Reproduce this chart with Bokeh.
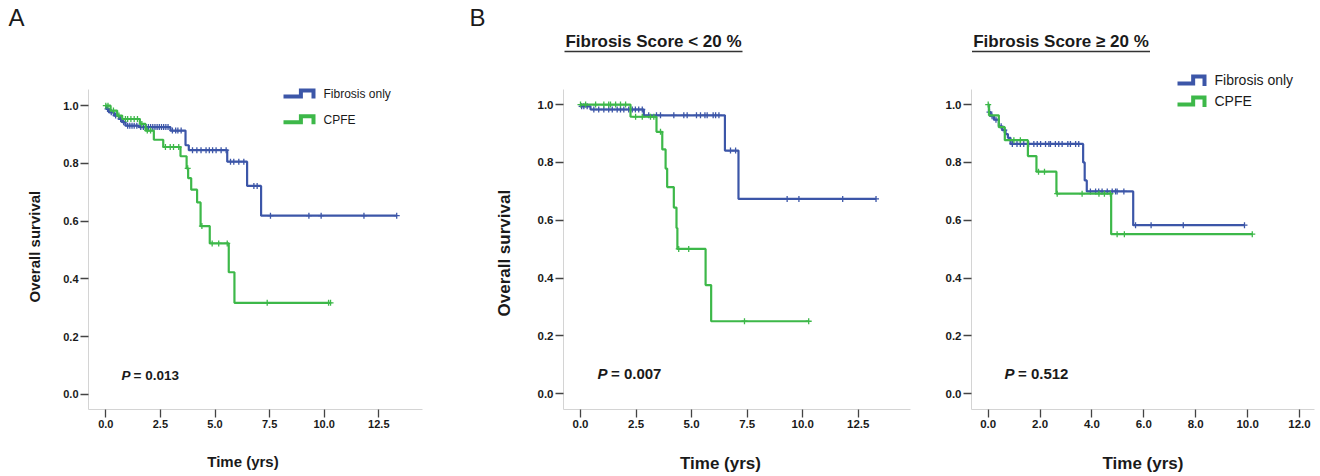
import numpy as np
from bokeh.plotting import figure
from bokeh.layouts import row
from bokeh.models import Range1d, FixedTicker, Title, NumeralTickFormatter
from bokeh.core.properties import value
from bokeh.embed import file_html
from bokeh.resources import INLINE

FONT = "Liberation Sans"
BLUE = "#3C56A8"
GREEN = "#3DB849"
TXT = "#1a1a1a"
FIG_H = 476

# ---------------- data (time in years, survival levels after each event) ----------------
# Panel A : all patients
a_fib_t = [0, 0.02, 0.14, 0.37, 0.60, 0.75, 0.90, 1.51, 2.96, 3.65, 3.80, 5.56, 6.47, 7.11, 13.32]
a_fib_s = [1.0, 0.989, 0.977, 0.966, 0.954, 0.943, 0.931, 0.926, 0.914, 0.863, 0.846, 0.806, 0.722, 0.619]
a_fib_c = [0.08, 0.25, 0.45, 0.68, 0.82, 1.0, 1.1, 1.2, 1.3, 1.42, 1.6, 1.72, 1.85, 1.95, 2.05, 2.15,
           2.25, 2.35, 2.45, 2.55, 2.65, 2.75, 2.85, 3.05, 3.2, 3.3, 3.45, 3.97, 4.17, 4.36, 4.59, 4.74,
           4.89, 5.05, 5.28, 5.51, 5.71, 5.86, 6.09, 6.32, 6.78, 6.93, 7.54, 9.30, 9.86, 11.82, 13.32]
a_cpfe_t = [0, 0.22, 0.52, 0.75, 1.56, 1.82, 2.20, 2.63, 3.42, 3.70, 3.77, 3.91, 4.18, 4.34, 4.76, 5.63, 5.89, 10.29]
a_cpfe_s = [1.0, 0.983, 0.966, 0.954, 0.937, 0.914, 0.882, 0.857, 0.825, 0.783, 0.749, 0.709, 0.665, 0.583, 0.523, 0.423, 0.317]
a_cpfe_c = [0.0, 0.1, 0.35, 0.6, 0.9, 1.0, 1.15, 1.3, 1.45, 1.65, 1.9, 2.05, 2.73, 2.95, 3.1, 3.34,
            3.75, 4.4, 4.87, 5.17, 5.56, 7.39, 10.2, 10.29]
a_p = "= 0.013"

# Panel B1 : fibrosis score < 20 %
b1_fib_t = [0, 0.02, 0.45, 2.85, 6.50, 7.11, 13.3]
b1_fib_s = [1.0, 0.994, 0.983, 0.963, 0.841, 0.674]
b1_fib_c = [0.05, 0.15, 0.3, 0.6, 0.82, 1.05, 1.27, 1.43, 1.65, 1.8, 1.95, 2.17, 2.33, 2.47, 2.62, 2.78,
            3.07, 3.42, 3.6, 4.2, 4.65, 4.8, 5.22, 5.4, 5.6, 5.7, 5.97, 6.08, 6.23, 6.75, 6.98,
            9.30, 9.83, 11.8, 13.3]
b1_cpfe_t = [0, 2.25, 3.42, 3.68, 3.83, 3.90, 4.20, 4.32, 4.36, 5.63, 5.88, 10.27]
b1_cpfe_s = [1.0, 0.958, 0.906, 0.845, 0.779, 0.715, 0.644, 0.573, 0.501, 0.376, 0.251]
b1_cpfe_c = [0.0, 0.23, 0.68, 1.05, 1.27, 1.35, 1.58, 1.8, 2.03, 2.48, 2.78, 3.15, 3.3, 3.6,
             4.42, 4.87, 7.38, 10.27]
b1_p = "= 0.007"

# Panel B2 : fibrosis score >= 20 %
b2_fib_t = [0, 0.03, 0.10, 0.22, 0.41, 0.54, 0.67, 0.76, 0.86, 3.66, 3.72, 3.80, 5.59, 9.88]
b2_fib_s = [1.0, 0.974, 0.96, 0.948, 0.925, 0.912, 0.898, 0.885, 0.864, 0.80, 0.738, 0.70, 0.583]
b2_fib_c = [0.05, 0.15, 0.3, 0.5, 0.62, 0.93, 1.11, 1.24, 1.37, 1.56, 1.76, 1.89, 2.02, 2.21, 2.34,
            2.40, 2.59, 2.72, 2.85, 3.07, 3.17, 3.37, 3.49, 3.94, 4.14, 4.26, 4.39, 4.59, 4.78,
            4.91, 4.97, 5.23, 5.68, 6.28, 7.52, 9.88]
b2_cpfe_t = [0, 0.03, 0.41, 0.64, 1.53, 1.86, 2.63, 4.74, 10.18]
b2_cpfe_s = [1.0, 0.963, 0.922, 0.877, 0.822, 0.768, 0.692, 0.552]
b2_cpfe_c = [0.0, 0.99, 1.24, 1.94, 2.17, 2.66, 3.62, 4.27, 4.48, 4.71, 4.97, 5.25, 10.18]
b2_p = "= 0.512"

series_names = ["Fibrosis only", "CPFE"]
ab_xticks = [0, 2.5, 5, 7.5, 10, 12.5]
c_xticks = [0, 2, 4, 6, 8, 10, 12]
y_ticks = [0, 0.2, 0.4, 0.6, 0.8, 1.0]
x_title = "Time (yrs)"
y_title = "Overall survival"


def km(p, t, s, cens, color):
    t = np.asarray(t, float)
    s = np.asarray(s, float)
    ys = np.append(s, s[-1])
    p.step(t, ys, mode="after", line_color=color, line_width=2.2)
    c = np.asarray(cens, float)
    idx = np.clip(np.searchsorted(t, c, side="right") - 1, 0, len(s) - 1)
    p.scatter(c, s[idx], marker="cross", size=6, line_color=color, line_width=1.3)


def ttl(txt, size, style, align, offset, standoff):
    return Title(text=txt, text_font=FONT, text_font_size=size, text_font_style=style,
                 text_color=TXT, align=align, offset=offset, standoff=standoff)


class Panel:
    def __init__(self, fig_x, width, left, right, top, bottom, x0, kx, y0, ky, xticks, tick_px):
        self.x0, self.kx, self.y0, self.ky = x0, kx, y0, ky
        self.left, self.right, self.top, self.bottom = left, right, top, bottom
        xs, xe = self.dx(left), self.dx(right)
        ys, ye = self.dy(bottom), self.dy(top)
        p = figure(width=width, height=FIG_H, output_backend="svg", toolbar_location=None, title=None,
                   x_range=Range1d(xs, xe), y_range=Range1d(ys, ye),
                   min_border_left=left - fig_x, min_border_right=fig_x + width - right,
                   min_border_top=top, min_border_bottom=FIG_H - bottom,
                   background_fill_color="white", border_fill_color="white")
        p.outline_line_color = None
        p.xgrid.visible = False
        p.ygrid.visible = False
        for ax in (p.xaxis[0], p.yaxis[0]):
            ax.axis_line_color = "#d4d4d4"
            ax.axis_line_width = 1
            ax.major_tick_line_color = "#444444"
            ax.major_tick_line_width = 1.3
            ax.major_tick_out = 8
            ax.major_tick_in = 0
            ax.minor_tick_line_color = None
            ax.major_label_text_font = FONT
            ax.major_label_text_font_style = "bold"
            ax.major_label_text_font_size = tick_px
            ax.major_label_text_color = TXT
            ax.major_label_standoff = 2
            ax.formatter = NumeralTickFormatter(format="0.0")
        p.xaxis.ticker = FixedTicker(ticks=xticks)
        p.yaxis.ticker = FixedTicker(ticks=y_ticks)
        p.yaxis.bounds = (ys, self.dy(88.5))
        self.p = p

    def dx(self, px):
        return (px - self.x0) / self.kx

    def dy(self, py):
        return (self.y0 - py) / self.ky

    def xlabel(self, cx, size_px, standoff):
        # axis titles are centred on the frame; pad with no-break spaces to shift the centre
        shift = cx - (self.left + self.right) / 2
        n = int(round(2 * abs(shift) / (0.278 * size_px)))
        pad = "\u00a0" * n
        txt = (x_title + pad) if shift < 0 else (pad + x_title)
        ax = self.p.xaxis[0]
        ax.axis_label = txt
        ax.axis_label_text_font = FONT
        ax.axis_label_text_font_style = "bold"
        ax.axis_label_text_font_size = f"{size_px}px"
        ax.axis_label_text_color = TXT
        ax.axis_label_standoff = standoff

    def ylabel(self, y_bottom, size_px, standoff):
        self.p.add_layout(ttl(y_title, f"{size_px}px", "bold", "left",
                              self.bottom - y_bottom, standoff), "left")

    def letter(self, px, txt):
        self.p.add_layout(ttl(txt, "24px", "normal", "left", px - self.left, 2), "above")

    def text(self, px, py, txt, size, style="normal", align="left", x_offset=0):
        self.p.text(x=[self.dx(px)], y=[self.dy(py)], text=[txt], x_offset=x_offset,
                    text_font=value(FONT), text_font_size=size, text_font_style=style,
                    text_color=TXT, text_align=align, text_baseline="middle")

    def title(self, cx, cy, txt, half_w):
        self.text(cx, cy, txt, "17px", "bold", "center")
        self.p.line([self.dx(cx - half_w), self.dx(cx + half_w)], [self.dy(cy + 9.5)] * 2,
                    line_color="#333333", line_width=1.4)

    def pval(self, px, py, txt, size_px, gap):
        self.text(px, py, "P", f"{size_px}px", "bold italic")
        self.text(px, py, txt, f"{size_px}px", "bold", x_offset=gap)

    def legend(self, px, py, w, h, gap, size_px):
        for i, (name, col) in enumerate(zip(series_names, [BLUE, GREEN])):
            yy = py + i * gap
            xs = [px, px + 0.58 * w, px + 0.58 * w, px + w, px + w]
            ys_ = [yy + h * 0.45, yy + h * 0.45, yy - h * 0.55, yy - h * 0.55, yy + h * 0.8]
            self.p.line([self.dx(v) for v in xs], [self.dy(v) for v in ys_],
                        line_color=col, line_width=4, line_join="miter")
            self.text(px + w + 10, yy, name, f"{size_px}px")


# Panel A
A = Panel(0, 470, 88, 422, 30, 412, 105.3, 21.84, 396.7, 291.7, ab_xticks, "11px")
km(A.p, a_fib_t, a_fib_s, a_fib_c, BLUE)
km(A.p, a_cpfe_t, a_cpfe_s, a_cpfe_c, GREEN)
A.legend(283, 93, 30, 6, 26, 12)
A.pval(121, 378, a_p, 13.5, 12)
A.letter(8, "A")
A.ylabel(305, 15, 36)
A.xlabel(242, 15, 22)

# Panel B1
B1 = Panel(470, 442, 563, 910, 30, 409, 580, 22.22, 393.3, 290, ab_xticks, "11.5px")
km(B1.p, b1_fib_t, b1_fib_s, b1_fib_c, BLUE)
km(B1.p, b1_cpfe_t, b1_cpfe_s, b1_cpfe_c, GREEN)
B1.title(653, 40.5, "Fibrosis Score < 20 %", 89)
B1.pval(597, 373, b1_p, 15, 13.5)
B1.letter(469, "B")
B1.ylabel(316, 17, 42)
B1.xlabel(720, 17, 23)

# Panel B2
B2 = Panel(912, 404, 971, 1314, 30, 409, 987.7, 25.94, 393.3, 290, c_xticks, "11.5px")
km(B2.p, b2_fib_t, b2_fib_s, b2_fib_c, BLUE)
km(B2.p, b2_cpfe_t, b2_cpfe_s, b2_cpfe_c, GREEN)
B2.title(1060.5, 40.5, "Fibrosis Score \u2265 20 %", 89)
B2.legend(1177, 79, 27, 7, 21, 14)
B2.pval(1004, 373, b2_p, 15, 13.5)
B2.xlabel(1143, 17, 23)

layout = row(A.p, B1.p, B2.p)
open("out.html", "w").write(file_html(layout, INLINE))
